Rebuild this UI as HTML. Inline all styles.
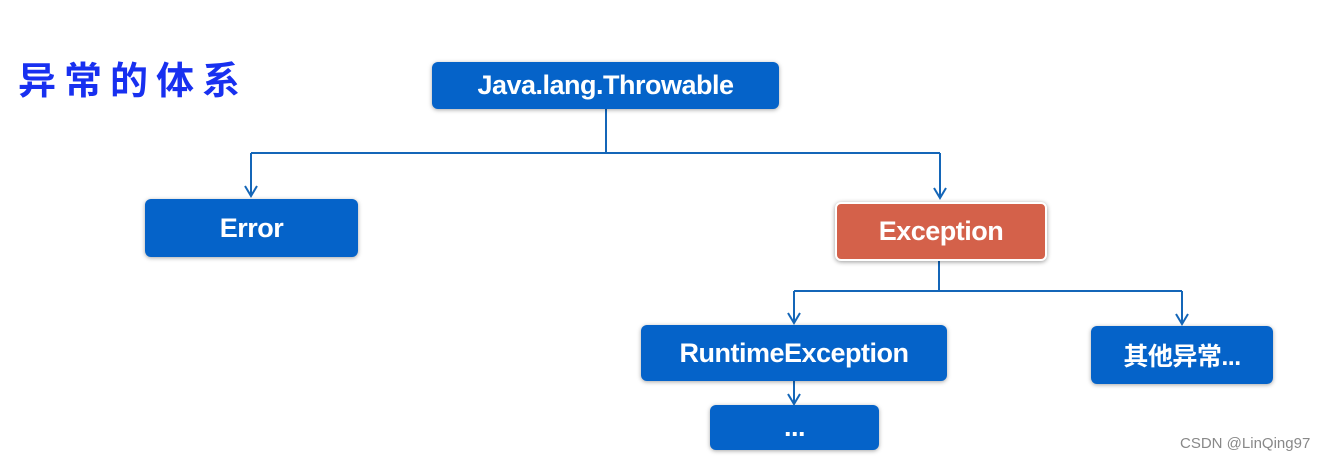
<!DOCTYPE html>
<html><head><meta charset="utf-8"><style>
body{margin:0;width:1326px;height:461px;background:#fff;position:relative;overflow:hidden;font-family:"Liberation Sans","Noto Sans CJK SC",sans-serif}
.b{position:absolute;background:#0563c9;color:#fff;font-weight:bold;border-radius:6px;display:flex;align-items:center;justify-content:center;box-shadow:0 1px 4px rgba(0,0,0,.35);font-size:27px;letter-spacing:-0.5px}
.t{position:absolute;left:18px;top:50px;font-size:38px;color:#1830f0;font-family:"WenQuanYi Zen Hei","Noto Sans CJK SC",sans-serif;letter-spacing:8px;font-weight:bold}
.w{position:absolute;left:1180px;top:435px;font-size:15px;color:#888}
</style></head><body>
<div class="t">异常的体系</div>
<svg width="1326" height="461" style="position:absolute;left:0;top:0" fill="none" stroke="#1466b8" stroke-width="2">
<path d="M606 109V153M251 153H940M251 153V196M940 153V198M939 259V291M794 291H1182M794 291V323M1182 291V324M794 381V404"/>
<path d="M245 186L251 196L257 186M934 188L940 198L946 188M788 313L794 323L800 313M1176 314L1182 324L1188 314M788 394L794 404L800 394"/>
</svg>
<div class="b" style="left:432px;top:62px;width:347px;height:47px">Java.lang.Throwable</div>
<div class="b" style="left:145px;top:199px;width:213px;height:58px">Error</div>
<div class="b" style="left:835px;top:202px;width:208px;height:55px;background:#d4614a;border:2px solid #fff;box-shadow:0 1px 5px rgba(0,0,0,.4)">Exception</div>
<div class="b" style="left:641px;top:325px;width:306px;height:56px">RuntimeException</div>
<div class="b" style="left:1091px;top:326px;width:182px;height:58px;font-size:25px">其他异常...</div>
<div class="b" style="left:710px;top:405px;width:169px;height:45px">...</div>
<div class="w">CSDN @LinQing97</div>
</body></html>
